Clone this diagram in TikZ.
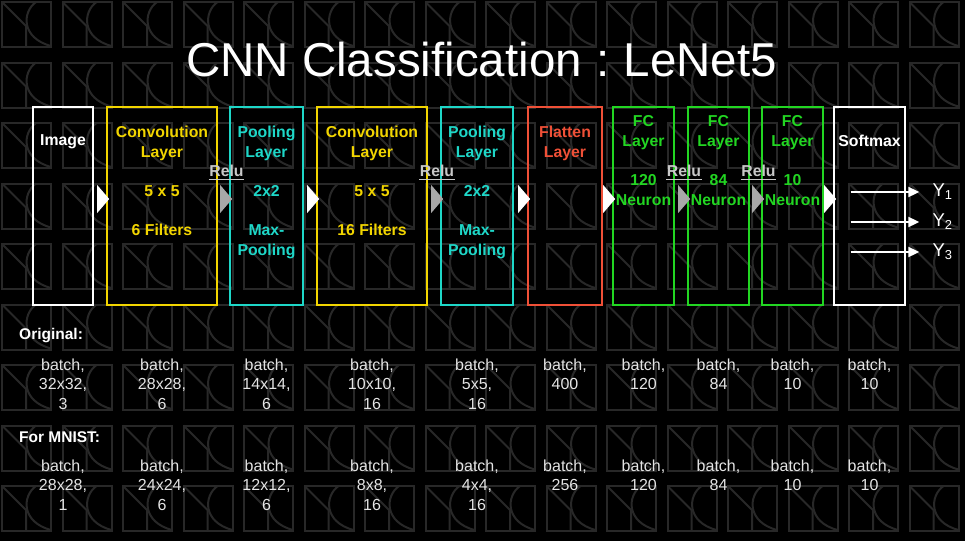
\documentclass[tikz,border=0pt]{standalone}
\usepackage{fontspec}
\setmainfont{Liberation Sans}
\usetikzlibrary{arrows.meta, calc, positioning}
\definecolor{cnnbg}{HTML}{000000}
\definecolor{cnntile}{HTML}{282828}
\definecolor{cnnyellow}{HTML}{F2D500}
\definecolor{cnncyan}{HTML}{1ED7C8}
\definecolor{cnnred}{HTML}{F05037}
\definecolor{cnngreen}{HTML}{22D622}
\definecolor{cnnrelu}{HTML}{C8C8C8}
\definecolor{cnntri}{HTML}{A8A8A8}
\definecolor{cnndim}{HTML}{E4E4E4}
\tikzset{
  tile/.style={draw=cnntile, line width=2pt},
  layerbox/.style={rectangle, line width=2.6pt, minimum height=198pt, inner sep=0pt},
  boxtxt/.style={font=\fontsize{15.8}{20}\selectfont\bfseries, align=center, inner sep=0pt},
  relulbl/.style={font=\fontsize{15.8}{20}\selectfont\bfseries, text=cnnrelu,
    inner xsep=0.5pt, inner ysep=2.5pt},
  yout/.style={-{Triangle[length=11pt, width=10pt]}, draw=white, line width=2pt},
  ylbl/.style={font=\fontsize{18.5}{21}\selectfont, text=white, inner sep=0pt, anchor=west},
  dimtxt/.style={font=\fontsize{16}{19.5}\selectfont, text=cnndim, align=center,
    inner sep=0pt, anchor=north},
  head/.style={font=\fontsize{15.5}{19}\selectfont\bfseries, text=white, inner sep=0pt,
    anchor=base west},
}

\begin{document}
\begin{tikzpicture}[x=1pt, y=-1pt]

% ---- background and tiled logo pattern
\fill[cnnbg] (0,0) rectangle (965,541);
\useasboundingbox (0,0) rectangle (965,541);
\foreach \i in {0,...,15} {
  \foreach \j in {0,...,8} {
    \begin{scope}[shift={(60.5*\i, 60.5*\j)}]
      \draw[tile] (2,2) rectangle (51,47);
      \draw[tile] (2,2) -- (26,26) -- (26,47);
      \draw[tile] (36,2) .. controls (22,12) and (21,38) .. (51,46);
    \end{scope}
  }
}

% ---- title
\node[font=\fontsize{47.5}{54}\selectfont, text=white, anchor=base] (title) at (481.5,76)
  {CNN Classification\hspace{.3em}:\hspace{.3em}LeNet5};

% ---- layer boxes
\foreach \name/\x/\w/\col in {img/63/60/white, conv1/162/110/cnnyellow,
    pool1/266.5/73/cnncyan, conv2/372/110/cnnyellow, pool2/477/72/cnncyan,
    flat/565/74/cnnred, fc1/643.5/61/cnngreen, fc2/718.5/61/cnngreen,
    fc3/792.5/61/cnngreen, soft/869.5/71/white} {
  \node[layerbox, draw=\col, minimum width=\w pt] (\name) at (\x,206) {};
}

\node[boxtxt, text=white, below=29pt of img.north] (imgtxt) {Image};
\node[boxtxt, text=cnnyellow, below=20pt of conv1.north] (conv1txt)
  {Convolution\\Layer\\[19pt]5 x 5\\[19pt]6 Filters};
\node[boxtxt, text=cnncyan, below=20pt of pool1.north] (pool1txt)
  {Pooling\\Layer\\[19pt]2x2\\[19pt]Max-\\Pooling};
\node[boxtxt, text=cnnyellow, below=20pt of conv2.north] (conv2txt)
  {Convolution\\Layer\\[19pt]5 x 5\\[19pt]16 Filters};
\node[boxtxt, text=cnncyan, below=20pt of pool2.north] (pool2txt)
  {Pooling\\Layer\\[19pt]2x2\\[19pt]Max-\\Pooling};
\node[boxtxt, text=cnnred, below=20pt of flat.north] (flattxt) {Flatten\\Layer};
\node[boxtxt, text=cnngreen, below=10pt of fc1.north] (fc1txt) {FC\\Layer\\[19pt]120\\Neuron};
\node[boxtxt, text=cnngreen, below=10pt of fc2.north] (fc2txt) {FC\\Layer\\[19pt]84\\Neuron};
\node[boxtxt, text=cnngreen, below=10pt of fc3.north] (fc3txt) {FC\\Layer\\[19pt]10\\Neuron};
\node[boxtxt, text=white, below=29pt of soft.north] (softtxt) {Softmax};

% ---- feed triangles between layers
\foreach \b/\c in {conv1/white, pool1/cnntri, conv2/white, pool2/cnntri, flat/white,
    fc1/white, fc2/cnntri, fc3/cnntri, soft/white} {
  \fill[\c] ($(\b.west)+(3.5,-7)$) -- ++(-12,-14) -- ++(0,28) -- cycle;
}

% ---- activation labels
\foreach \a/\b/\n in {conv1/pool1/1, conv2/pool2/2, fc1/fc2/3, fc2/fc3/4} {
  \node[relulbl] (relu\n) at ($(\a.east)!.5!(\b.west)+(3,-35)$) {Relu};
  \draw[cnnrelu, line width=1pt] (relu\n.south west) -- (relu\n.south east);
}

% ---- softmax outputs
\foreach \n/\dy in {1/-14, 2/16, 3/46} {
  \coordinate (out\n) at ($(soft.west)+(18,\dy)$);
  \node[ylbl] (y\n) at ($(soft.east)+(26,\dy)$) {Y\textsubscript{\n}};
  \draw[yout] (out\n) -- ([xshift=-13pt]y\n.west);
}

% ---- tensor shapes
\node[head] (orighead) at (19,339) {Original:};
\node[head] (mnisthead) at (19,442) {For MNIST:};
\foreach \b/\o/\m in {img/{batch,\\32x32,\\3}/{batch,\\28x28,\\1},
    conv1/{batch,\\28x28,\\6}/{batch,\\24x24,\\6},
    pool1/{batch,\\14x14,\\6}/{batch,\\12x12,\\6},
    conv2/{batch,\\10x10,\\16}/{batch,\\8x8,\\16},
    pool2/{batch,\\5x5,\\16}/{batch,\\4x4,\\16},
    flat/{batch,\\400}/{batch,\\256},
    fc1/{batch,\\120}/{batch,\\120},
    fc2/{batch,\\84}/{batch,\\84},
    fc3/{batch,\\10}/{batch,\\10},
    soft/{batch,\\10}/{batch,\\10}} {
  \node[dimtxt] (orig\b) at ($(\b.south)+(0,52)$) {\o};
  \node[dimtxt] (mnist\b) at ($(\b.south)+(0,153)$) {\m};
}

\end{tikzpicture}
\end{document}
